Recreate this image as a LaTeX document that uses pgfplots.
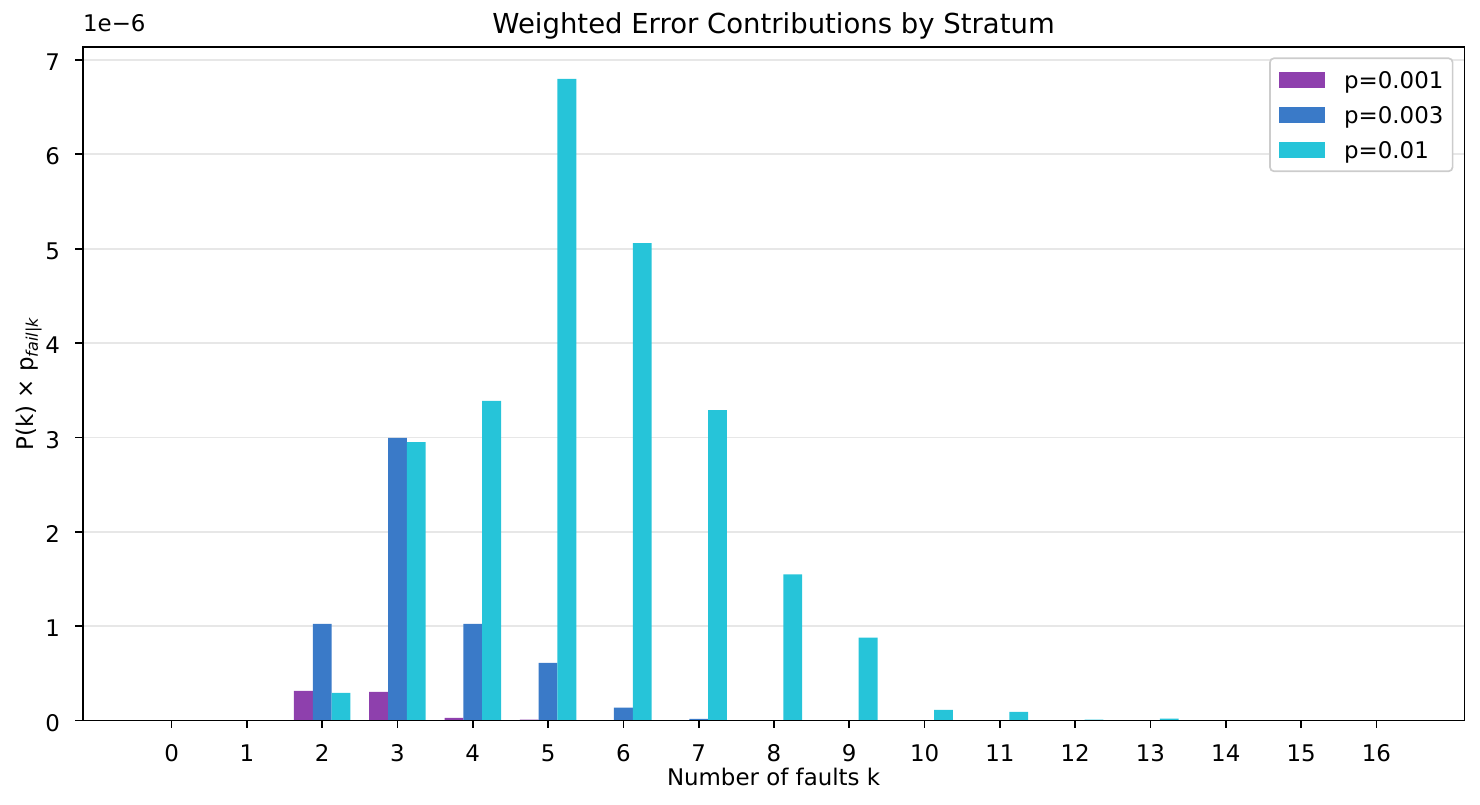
\documentclass[border=0pt]{standalone}
\usepackage{fontspec}
\setmainfont{DejaVu Sans}[ItalicFont={DejaVu Sans Oblique},BoldFont={DejaVu Sans Bold}]
\usepackage{pgfplots}
\usepackage{pgfplotstable}
\pgfplotsset{compat=1.18}

\definecolor{cpurple}{RGB}{142,64,173}
\definecolor{cblue}{RGB}{58,122,200}
\definecolor{ccyan}{RGB}{38,196,217}
\definecolor{gridgray}{RGB}{231,231,231}
\definecolor{legframe}{RGB}{204,204,204}

% values in units of 1e-6
\pgfplotstableread{
k  p001   p003   p01
0  0      0      0
1  0      0      0
2  0.315  1.025  0.293
3  0.304  2.995  2.950
4  0.029  1.025  3.387
5  0.010  0.611  6.798
6  0      0.138  5.060
7  0      0.018  3.290
8  0      0      1.550
9  0      0      0.880
10 0      0      0.113
11 0      0      0.092
12 0      0      0.010
13 0      0      0.020
14 0      0      0
15 0      0      0
16 0      0      0
}\strata

\begin{document}
\fontsize{11}{13.2}\selectfont
\begin{tikzpicture}
\path[use as bounding box] (-39.7pt,-40.5pt) rectangle (670.74pt,345.9pt);
\begin{axis}[
    at={(0,0)}, anchor=south west,
    scale only axis,
    width=663.3pt, height=323.2pt,
    xmin=-1.18, xmax=17.17,
    ymin=0, ymax=7.134,
    xtick={0,1,...,16},
    ytick={0,1,...,7},
    tick pos=left,
    tick align=outside,
    major tick length=3.5pt,
    tick style={black, line width=0.8pt},
    axis line style={black, line width=0.8pt},
    /pgf/number format/assume math mode=true,
    xticklabel style={anchor=base, inner sep=0pt, yshift=-16pt},
    yticklabel style={anchor=base east, inner sep=0pt, xshift=-7.2pt, yshift=-5.1pt},
    ymajorgrids=true,
    major grid style={gridgray, line width=0.8pt},
    title={Weighted Error Contributions by Stratum},
    title style={at={(axis description cs:0.5,1)}, anchor=base, yshift=0.7pt, inner sep=0pt, font=\fontsize{13.2}{15}\selectfont},
    xlabel={Number of faults k},
    xlabel style={at={(axis description cs:0.5,-0.0968)}, anchor=base, inner sep=0pt},
    ylabel={P(k) × p\textsubscript{\itshape fail|k}},
    ylabel style={at={(axis description cs:-0.0357,0.5)}, anchor=base, inner sep=0pt},
    ybar,
    bar width=0.25,
    clip=false,
    legend cell align=left,
    legend image code/.code={\fill[#1, sharp corners] (0pt,-3.85pt) rectangle (22pt,3.85pt);},
    legend style={
        at={(rel axis cs:0.992,0.985)}, anchor=north east,
        draw=legframe, line width=0.8pt, rounded corners=2pt,
        inner xsep=4.4pt, inner ysep=6.3pt,
        row sep=8.6pt, column sep=9.2pt,
        nodes={inner sep=0pt, text depth=0pt},
    },
]
\addplot[fill=cpurple, draw=none, bar shift=-0.25, y filter/.expression={y==0 ? nan : y}] table[x=k, y=p001] {\strata};
\addlegendentry{p=0.001}
\addplot[fill=cblue, draw=none, bar shift=0, y filter/.expression={y==0 ? nan : y}] table[x=k, y=p003] {\strata};
\addlegendentry{p=0.003}
\addplot[fill=ccyan, draw=none, bar shift=0.25, y filter/.expression={y==0 ? nan : y}] table[x=k, y=p01] {\strata};
\addlegendentry{p=0.01}
\draw[black, line width=0.8pt] (rel axis cs:0,0) rectangle (rel axis cs:1,1);
\node[anchor=base west, inner sep=0pt, yshift=7.5pt] at (rel axis cs:0,1) {1e−6};
\end{axis}
\end{tikzpicture}
\end{document}
